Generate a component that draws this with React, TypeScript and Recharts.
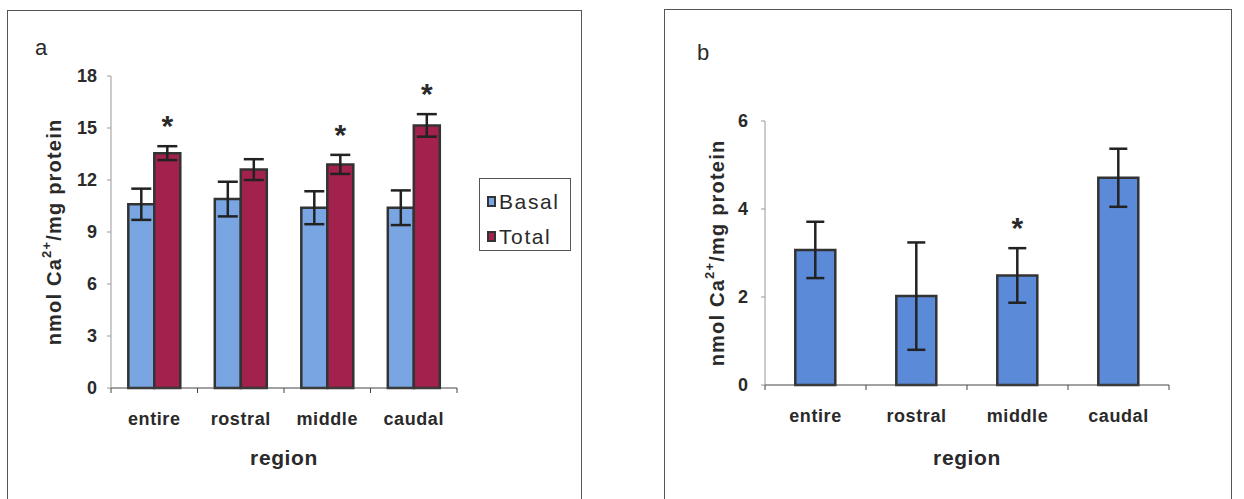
import React from 'react';
import { BarChart, Bar, XAxis, YAxis, ErrorBar, LabelList, Legend } from 'recharts';

const regions = ['entire', 'rostral', 'middle', 'caudal'];

// panel a
const basalValues = [10.6, 10.9, 10.4, 10.4];
const basalErrors = [0.9, 1.0, 0.95, 1.0];
const totalValues = [13.55, 12.6, 12.9, 15.15];
const totalErrors = [0.4, 0.6, 0.55, 0.65];
const totalSignificant = [true, false, true, true];
const ticksA = [0, 3, 6, 9, 12, 15, 18];

// panel b
const diffValues = [3.07, 2.02, 2.49, 4.71];
const diffErrors = [0.64, 1.22, 0.62, 0.66];
const diffSignificant = [false, false, true, false];
const ticksB = [0, 2, 4, 6];

const FONT = '"Liberation Sans", Arial, sans-serif';
const INK = '#2a2a2a';

const dataA = regions.map((r, i) => ({
    region: r,
    basal: basalValues[i],
    basalErr: basalErrors[i],
    total: totalValues[i],
    totalErr: totalErrors[i],
}));

const dataB = regions.map((r, i) => ({
    region: r,
    value: diffValues[i],
    err: diffErrors[i],
}));

// category label in the middle, tick marks on the band edges
const RegionTick = (props: any) => {
    const { x, y, payload, index, visibleTicksCount } = props;
    const half = payload?.offset ?? 43;
    const last = index === visibleTicksCount - 1;
    return (
        <g>
            <line x1={x - half} y1={y} x2={x - half} y2={y + 5} stroke="#444" strokeWidth={1} />
            {last && <line x1={x + half} y1={y} x2={x + half} y2={y + 5} stroke="#444" strokeWidth={1} />}
            <text x={x} y={y + 31} textAnchor="middle" dominantBaseline="central" fill={INK}
                style={{ fontFamily: FONT, fontSize: 18, fontWeight: 700, letterSpacing: 0.6 }}>
                {payload.value}
            </text>
        </g>
    );
};

const yTitle = (dx: number) => (props: any) => {
    const vb = props.viewBox;
    const cx = vb.x + dx;
    const cy = vb.y + vb.height / 2;
    return (
        <text x={cx} y={cy} transform={`rotate(-90, ${cx}, ${cy})`} textAnchor="middle" dominantBaseline="central"
            fill={INK} style={{ fontFamily: FONT, fontSize: 20, fontWeight: 700, letterSpacing: 1.2 }}>
            nmol Ca<tspan dy={-8} fontSize={13}>2+</tspan><tspan dy={8}>/mg protein</tspan>
        </text>
    );
};

const xTitle = (props: any) => {
    const vb = props.viewBox;
    return (
        <text x={vb.x + vb.width / 2} y={457} textAnchor="middle" dominantBaseline="central" fill={INK}
            style={{ fontFamily: FONT, fontSize: 21, fontWeight: 700, letterSpacing: 0.6 }}>
            region
        </text>
    );
};

const star = (errors: number[], flags: boolean[]) => (props: any) => {
    const vb = props.viewBox ?? props;
    const { x, y, width, height } = vb;
    const index = props.index;
    const value = Number(props.value);
    if (!flags[index] || !value) return null;
    const perUnit = height / value;
    const errTop = y - errors[index] * perUnit;
    return (
        <text x={x + width / 2} y={errTop - 27 + 17} textAnchor="middle" fill={INK}
            style={{ fontFamily: FONT, fontSize: 30, fontWeight: 700 }}>
            *
        </text>
    );
};

const LegendBox = () => {
    const items = [
        { name: 'Basal', color: '#79a6e2' },
        { name: 'Total', color: '#a3214d' },
    ];
    return (
        <div style={{
            width: 92, height: 73, boxSizing: 'border-box', border: '1px solid #555', background: '#fff',
            paddingTop: 9, paddingLeft: 7, fontFamily: FONT,
        }}>
            {items.map(it => (
                <div key={it.name} style={{ display: 'flex', alignItems: 'center', height: 27, marginBottom: 8 }}>
                    <span style={{
                        display: 'inline-block', width: 9, height: 11, background: it.color,
                        border: '2px solid #333', boxSizing: 'border-box', marginRight: 3,
                    }} />
                    <span style={{ fontSize: 21, color: INK, letterSpacing: 1.6 }}>{it.name}</span>
                </div>
            ))}
        </div>
    );
};

const frame = (left: number, top: number, width: number): React.CSSProperties => ({
    position: 'absolute', left, top, width, height: 520, boxSizing: 'border-box',
    borderTop: '1px solid #555', borderLeft: '1px solid #555', borderRight: '1px solid #555',
});

const letter = (left: number, top: number): React.CSSProperties => ({
    position: 'absolute', left, top, fontFamily: FONT, fontSize: 22, color: INK, lineHeight: 1,
});

export default function App() {
    return (
        <div style={{ position: 'absolute', left: 0, top: 0, width: 1244, height: 499, overflow: 'hidden', background: '#fff' }}>
            <div style={frame(7, 10, 575)} />
            <div style={frame(664, 9, 568)} />
            <div style={letter(35, 37)}>a</div>
            <div style={letter(697, 42)}>b</div>

            <div style={{ position: 'absolute', left: 0, top: 0 }}>
                <BarChart width={600} height={499} data={dataA} barCategoryGap="20%" barGap={0}
                    margin={{ top: 76, right: 143, bottom: 71, left: 40 }}>
                    <XAxis dataKey="region" height={40} axisLine={{ stroke: '#444', strokeWidth: 1 }}
                        tickLine={false} tickSize={0} tickMargin={0} tick={<RegionTick />} interval={0}
                        label={xTitle} />
                    <YAxis width={71} domain={[0, 18]} ticks={ticksA} interval={0}
                        axisLine={{ stroke: '#999', strokeWidth: 1 }} tickLine={{ stroke: '#999' }} tickSize={4} tickMargin={10}
                        tick={{ fill: INK, fontFamily: FONT, fontSize: 18, fontWeight: 700 }}
                        label={yTitle(14)} />
                    <Legend layout="vertical" align="center" verticalAlign="middle" content={<LegendBox />}
                        wrapperStyle={{ left: 479, top: 178, width: 92 }} />
                    <Bar dataKey="basal" name="Basal" fill="#79a6e2" stroke="#333" strokeWidth={2.5} isAnimationActive={false}>
                        <ErrorBar dataKey="basalErr" width={10} stroke="#222" strokeWidth={2.5} isAnimationActive={false} />
                    </Bar>
                    <Bar dataKey="total" name="Total" fill="#a3214d" stroke="#333" strokeWidth={2.5} isAnimationActive={false}>
                        <ErrorBar dataKey="totalErr" width={10} stroke="#222" strokeWidth={2.5} isAnimationActive={false} />
                        <LabelList dataKey="total" content={star(totalErrors, totalSignificant)} />
                    </Bar>
                </BarChart>
            </div>

            <div style={{ position: 'absolute', left: 620, top: 0 }}>
                <BarChart width={600} height={499} data={dataB} barCategoryGap="30%"
                    margin={{ top: 121, right: 51, bottom: 74, left: 80 }}>
                    <XAxis dataKey="region" height={40} axisLine={{ stroke: '#444', strokeWidth: 1 }}
                        tickLine={false} tickSize={0} tickMargin={0} tick={<RegionTick />} interval={0}
                        label={xTitle} />
                    <YAxis width={65} domain={[0, 6]} ticks={ticksB} interval={0}
                        axisLine={{ stroke: '#999', strokeWidth: 1 }} tickLine={{ stroke: '#999' }} tickSize={4} tickMargin={13}
                        tick={{ fill: INK, fontFamily: FONT, fontSize: 18, fontWeight: 700 }}
                        label={yTitle(17)} />
                    <Bar dataKey="value" fill="#5b8ad8" stroke="#333" strokeWidth={2.5} isAnimationActive={false}>
                        <ErrorBar dataKey="err" width={9} stroke="#222" strokeWidth={2.5} isAnimationActive={false} />
                        <LabelList dataKey="value" content={star(diffErrors, diffSignificant)} />
                    </Bar>
                </BarChart>
            </div>
        </div>
    );
}
